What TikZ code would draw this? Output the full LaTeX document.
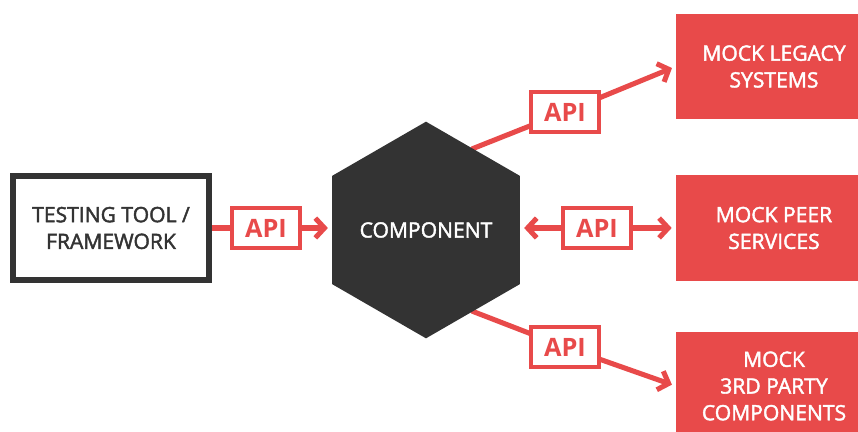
\documentclass[tikz,border=0pt]{standalone}
\usepackage{fontspec}
\setmainfont{Open Sans}
\newfontfamily\medfont{Open Sans}[FakeBold=2]
\usetikzlibrary{shapes.geometric,arrows.meta,backgrounds}
\definecolor{mockred}{HTML}{E84A4A}
\definecolor{hexgray}{HTML}{333333}
\tikzset{
    box text/.style={align=center, font=\medfont\fontsize{15}{19}\selectfont},
    mock box/.style={box text, fill=mockred, text=white, minimum width=4.9cm},
    api box/.style={draw=mockred, fill=white, line width=3pt, text=mockred, minimum width=1.7cm, minimum height=1cm, inner sep=0pt, font=\bfseries\fontsize{18}{20}\selectfont},
    link/.style={draw=mockred, line width=3.6pt},
    tip/.style={-{Straight Barb[length=6.5pt,width=14pt]}, shorten >=0.1cm},
  }

\begin{document}
\begin{tikzpicture}[x=0.025cm, y=-0.025cm]
			          %cadre 858x432, coupe les boites rouges au bord
				  \clip (0,0) rectangle (858,432);
				  \node[box text, draw=hexgray, line width=4pt, fill=white, text=hexgray, minimum width=4.91cm, minimum height=2.61cm](Testing) at (111,228) {TESTING TOOL /\\FRAMEWORK};
				  \node[box text, regular polygon, regular polygon sides=6, shape border rotate=30, inner sep=0pt, minimum size=4.86cm, fill=hexgray, text=white](Component) at (426,230) {COMPONENT};
				  \node[mock box, minimum height=2.625cm](Legacy) at (774,66.5) {MOCK LEGACY\\SYSTEMS};
				  \node[mock box, minimum height=2.65cm](Peer) at (774,228) {MOCK PEER\\SERVICES};
				  \node[mock box, minimum height=2.7cm](Party) at (774,386) {MOCK\\3RD PARTY\\COMPONENTS};
				  \node[api box](ApiLeft) at (266,228) {API};
				  \node[api box](ApiMid) at (597,228) {API};
				  \node[api box](ApiTop) at (565,112) {API};
				  \node[api box](ApiBottom) at (565,347) {API};
				  \begin{scope}[on background layer]
				  \draw[link,tip] (Testing.east) -- (Testing.east -| Component.west);
				  \draw[link,tip] (ApiMid.center) -- (ApiMid -| Component.east);
				  \draw[link,tip] (ApiMid.center) -- (Peer.west);
				  \draw[link,tip] (Component.center) -- (Component.60) -- (ApiTop.center) -- (Legacy.west);
				  \draw[link,tip] (Component.center) -- (Component.-60) -- (ApiBottom.center) -- (Party.west);
				  \end{scope}
				  \end{tikzpicture}
\end{document}
